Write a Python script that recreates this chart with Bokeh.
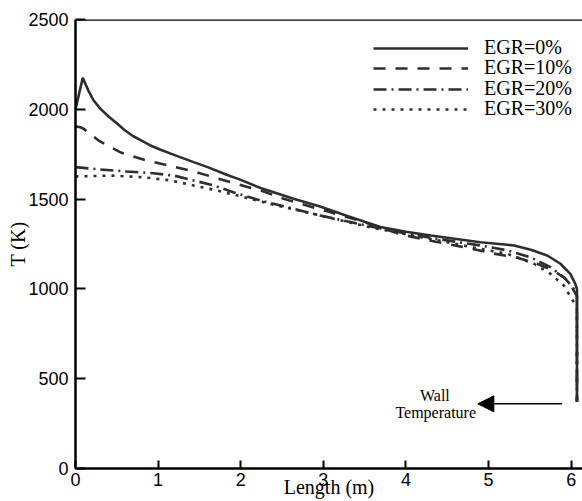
from bokeh.plotting import figure
from bokeh.models import Range1d, Span, Label, Arrow, NormalHead, Legend, LegendItem, FixedTicker
from bokeh.embed import file_html
from bokeh.resources import INLINE

# ---- data ----
x_egr0 = [0, 0.088, 0.15, 0.22, 0.3, 0.4, 0.5, 0.6, 0.7, 0.8, 0.9, 1.03, 1.2, 1.43, 1.6, 1.83, 2.0,
          2.24, 2.64, 2.96, 3.3, 3.69, 4.0, 4.3, 4.9, 5.31, 5.51, 5.71, 5.87, 5.99, 6.05, 6.07, 6.07]
t_egr0 = [2000, 2175, 2110, 2049, 2004, 1960, 1922, 1882, 1850, 1826, 1800, 1775, 1745, 1706, 1678, 1636, 1607,
          1562, 1502, 1459, 1405, 1345, 1318, 1297, 1260, 1242, 1218, 1186, 1140, 1084, 1028, 1000, 370]

x_egr10 = [0, 0.06, 0.1, 0.28, 0.54, 0.82, 1.1, 1.39, 1.67, 1.95, 2.24, 2.52, 2.8, 3.1, 3.4,
           3.7, 3.93, 4.22, 4.5, 4.78, 5.06, 5.35, 5.59, 5.79, 5.96, 6.02, 6.07, 6.07]
t_egr10 = [1905, 1900, 1891, 1826, 1761, 1720, 1690, 1659, 1622, 1585, 1548, 1502, 1464, 1425, 1385,
           1340, 1305, 1275, 1250, 1225, 1197, 1173, 1140, 1102, 1047, 1000, 960, 370]

x_egr20 = [0, 0.3, 0.62, 0.94, 1.19, 1.43, 1.67, 1.91, 2.24, 2.64, 2.96, 3.3, 3.6, 4.1, 4.5,
           4.9, 5.23, 5.51, 5.75, 5.91, 6.02, 6.07, 6.07]
t_egr20 = [1678, 1665, 1654, 1644, 1631, 1604, 1576, 1538, 1492, 1446, 1409, 1375, 1345, 1300, 1270,
           1242, 1214, 1176, 1121, 1065, 1009, 960, 370]

x_egr30 = [0, 0.42, 0.82, 1.15, 1.43, 1.71, 2.04, 2.44, 2.96, 3.3, 3.6, 4.0, 4.5, 4.9, 5.23,
           5.55, 5.75, 5.91, 6.02, 6.07, 6.07]
t_egr30 = [1626, 1631, 1622, 1604, 1576, 1548, 1511, 1464, 1409, 1372, 1340, 1305, 1260, 1223, 1195,
           1140, 1084, 1019, 935, 900, 370]

series_labels = ["EGR=0%", "EGR=10%", "EGR=20%", "EGR=30%"]
x_ticks = [0, 1, 2, 3, 4, 5, 6]
y_ticks = [0, 500, 1000, 1500, 2000, 2500]

# annotation
arrow_from = (5.89, 360)
arrow_to = (4.87, 360)
note_line1 = "Wall"
note_line2 = "Temperature"

SERIF = "Liberation Serif"
SANS = "Liberation Sans"
CURVE = "#2e2e2e"

p = figure(width=582, height=501, output_backend="svg", toolbar_location=None,
           x_range=Range1d(0, 6.137), y_range=Range1d(0, 2500),
           min_border_left=75, min_border_right=0, min_border_top=19, min_border_bottom=33)
p.outline_line_color = None
p.grid.visible = False
p.background_fill_color = "white"
p.border_fill_color = "white"

for ax, ticks, tin in ((p.xaxis[0], x_ticks, 8), (p.yaxis[0], y_ticks, 10)):
    ax.ticker = FixedTicker(ticks=ticks)
    ax.axis_line_width = 2.5
    ax.axis_line_color = "black"
    ax.major_tick_in = tin
    ax.major_tick_out = 0
    ax.major_tick_line_width = 2
    ax.minor_tick_line_color = None
    ax.major_label_text_font = SANS
    ax.major_label_text_font_size = "18px"
    ax.major_label_text_color = "black"
    ax.axis_label_text_font = SERIF
    ax.axis_label_text_font_size = "20px"
    ax.axis_label_text_font_style = "normal"
    ax.axis_label_text_color = "black"
p.xaxis[0].major_label_standoff = 4
p.yaxis[0].major_label_standoff = 7
p.xaxis[0].axis_label = "Length (m)"
p.xaxis[0].axis_label_standoff = -13
p.yaxis[0].axis_label = "T (K)"
p.yaxis[0].axis_label_standoff = -4

p.add_layout(Span(location=2500, dimension="width", line_color="black", line_width=2.5))

r0 = p.line(x_egr0, t_egr0, line_color=CURVE, line_width=2.6)
r1 = p.line(x_egr10, t_egr10, line_color=CURVE, line_width=2.6, line_dash="12 10")
r2 = p.line(x_egr20, t_egr20, line_color=CURVE, line_width=2.6, line_dash="13 5 2 5")
r3 = p.line(x_egr30, t_egr30, line_color=CURVE, line_width=2.6, line_dash="3 6")

row_bottoms = [409, 389, 368, 348]
for lab, r, yb in zip(series_labels, [r0, r1, r2, r3], row_bottoms):
    lg = Legend(items=[LegendItem(label=lab, renderers=[r])],
                location=(298, yb), orientation="vertical",
                glyph_width=95, glyph_height=22, label_height=22, label_standoff=16,
                spacing=0, padding=0, margin=0,
                border_line_color=None, background_fill_alpha=0,
                label_text_font=SERIF, label_text_font_size="20px", label_text_color="black")
    p.add_layout(lg)

p.add_layout(Arrow(end=NormalHead(size=16, fill_color="black", line_color="black"),
                   x_start=arrow_from[0], y_start=arrow_from[1], x_end=arrow_to[0], y_end=arrow_to[1],
                   line_width=1.5, line_color="black"))
p.add_layout(Label(x=4.35, y=406, text=note_line1, text_font=SERIF, text_font_size="16px",
                   text_align="center", text_baseline="middle", text_color="black"))
p.add_layout(Label(x=4.36, y=312, text=note_line2, text_font=SERIF, text_font_size="16px",
                   text_align="center", text_baseline="middle", text_color="black"))

open("out.html", "w").write(file_html(p, INLINE))
